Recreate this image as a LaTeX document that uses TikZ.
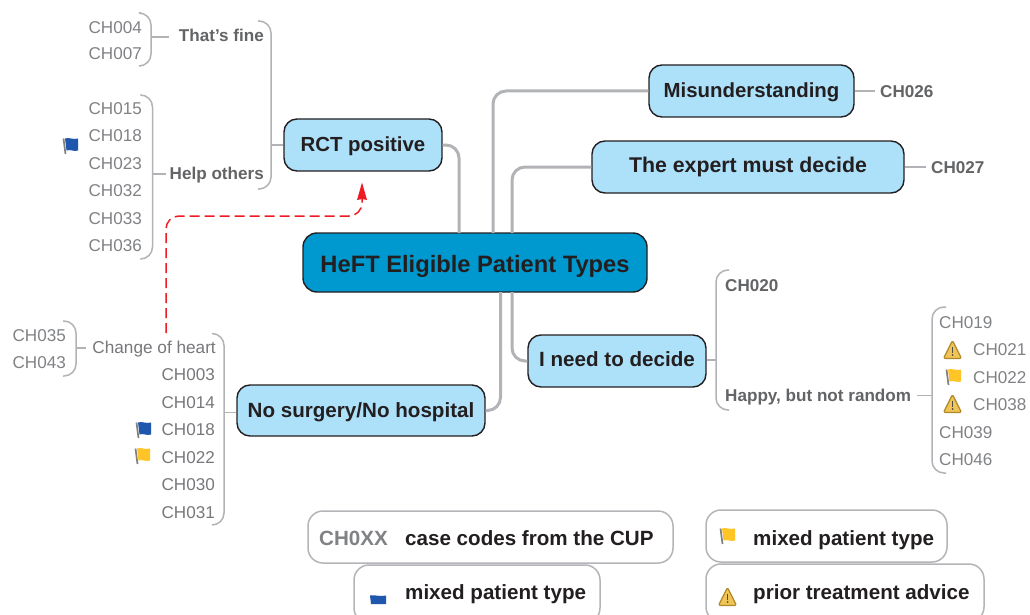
\documentclass[tikz,border=0pt]{standalone}
\usepackage{fontspec}
\setmainfont{Liberation Sans}
\definecolor{nodeblue}{HTML}{ADE0F9}
\definecolor{rootblue}{HTML}{0099CF}
\definecolor{inkdark}{HTML}{231F20}
\definecolor{linegrey}{HTML}{B1B3B6}
\definecolor{codegrey}{HTML}{808285}
\definecolor{labelgrey}{HTML}{636466}
\definecolor{midgrey}{HTML}{77787B}
\definecolor{boxgrey}{HTML}{B4B5B8}
\definecolor{flagblue}{HTML}{1F57AE}
\definecolor{flagyellow}{HTML}{FFC425}
\definecolor{warnfill}{HTML}{F0C455}
\definecolor{warnedge}{HTML}{B08A2A}
\definecolor{redline}{HTML}{ED1C24}
\tikzset{
  topic/.style={draw=inkdark,line width=1.4pt,fill=nodeblue,rounded corners=13pt,text=inkdark,inner sep=0pt,
    font=\fontsize{20.4pt}{22pt}\bfseries,text height=14.7pt,text depth=0pt,anchor=center},
  root/.style={topic,fill=rootblue,rounded corners=14pt,font=\fontsize{23.7pt}{25pt}\bfseries,text height=20pt},
  code/.style={text=codegrey,inner sep=0pt,font=\fontsize{17.1pt}{19pt}\selectfont,text height=12.4pt,text depth=0pt},
  codemid/.style={code,text=midgrey},
  sublabel/.style={text=labelgrey,inner sep=0pt,font=\fontsize{17.1pt}{19pt}\bfseries,text height=12.2pt,text depth=0pt},
  branch/.style={draw=linegrey,line width=3pt,rounded corners=13pt},
  bracket/.style={draw=linegrey,line width=1.5pt,rounded corners=12pt},
  stub/.style={draw=linegrey,line width=1.5pt},
  legendbox/.style={draw=boxgrey,line width=1.5pt,fill=white,rounded corners=15pt,inner sep=0pt},
  legendtext/.style={text=inkdark,inner sep=0pt,font=\fontsize{20.6pt}{22pt}\bfseries,text height=14.8pt,text depth=0pt,anchor=west},
  linkline/.style={draw=redline,line width=1.5pt,dash pattern=on 10pt off 5pt,rounded corners=13pt},
  flagicon/.pic={
    \fill[#1] (3,-0.5) .. controls (7,-2) and (11,1) .. (16,-0.5) -- (16,11.5) .. controls (12,13) and (8,10) .. (4.5,11.5) -- cycle;
    \draw[gray,line width=1.7pt] (1.5,-0.5) -- (3.5,15);
  },
  warnicon/.pic={
    \draw[warnedge,fill=warnfill,line width=1.2pt,rounded corners=1.5pt,line join=round] (8.5,-0.5) -- (17.5,17.5) -- (-0.5,17.5) -- cycle;
    \draw[inkdark!80,line width=1.4pt] (8.5,5.5) -- (8.5,11.5);
    \fill[inkdark!80] (8.5,14) circle (1);
  },
}
\begin{document}
\begin{tikzpicture}[x=1pt,y=-1pt]
\clip (0,0) rectangle (1030,615);
\fill[white] (0,0) rectangle (1030,615);

% main topics
\node[root,minimum width=344pt,minimum height=59pt] (central) at (475,262.5) {HeFT Eligible Patient Types};
\node[topic,text depth=2pt,minimum width=158pt,minimum height=52pt] (rct) at (363,145) {RCT positive};
\node[topic,minimum width=248pt,minimum height=51pt,font=\fontsize{20.6pt}{22pt}\bfseries] (nosurg) at (361,410.5) {No surgery/No hospital};
\node[topic,text depth=2pt,minimum width=205pt,minimum height=52pt] (misund) at (751.5,91) {Misunderstanding};
\node[topic,text depth=4pt,minimum width=312pt,minimum height=52pt,font=\fontsize{21.3pt}{23pt}\bfseries] (expert) at (748,167) {The expert must decide};
\node[topic,text depth=4pt,minimum width=178pt,minimum height=52pt,font=\fontsize{20.6pt}{22pt}\bfseries] (decide) at (617,361) {I need to decide};

% anchors on the root's edges
\coordinate (rootA) at (459,233);
\coordinate (rootB) at (493,233);
\coordinate (rootC) at (512,233);
\coordinate (rootD) at (512,292);
\coordinate (rootE) at (500.5,292);
\draw[branch] (rct.east) -| (rootA);
\draw[branch] (misund.west) -| (rootB);
\draw[branch] (expert.west) -| (rootC);
\draw[branch] (decide.west) -| (rootD);
\draw[branch] (nosurg.east) -| (rootE);

% RCT positive branch
\node[sublabel,anchor=east] (fine) at (264,35) {That’s fine};
\node[sublabel,anchor=east] (help) at (264,173) {Help others};
\node[code,anchor=east] (c004) at (142,27) {CH004};
\node[code,anchor=east] (c007) at (142,53) {CH007};
\node[code,anchor=east] (c015) at (142,108) {CH015};
\node[code,anchor=east] (c018a) at (142,135) {CH018};
\node[code,anchor=east] (c023) at (142,163) {CH023};
\node[code,anchor=east] (c032) at (142,190) {CH032};
\node[code,anchor=east] (c033) at (142,218) {CH033};
\node[code,anchor=east] (c036) at (142,245) {CH036};
\draw[bracket] (258,21) -| (271,189) -- (258,189);
\coordinate (brRct) at (271,145);
\draw[stub] (brRct) -- (rct.west |- brRct);
\draw[bracket] (141,13) -| (151,66) -- (141,66);
\coordinate (brFine) at (151,37);
\draw[stub] (brFine) -- ([xshift=-10pt]fine.west |- brFine);
\draw[bracket] (141,95) -| (152.5,259) -- (141,259);
\coordinate (brHelp) at (152.5,174);
\draw[stub] (brHelp) -- ([xshift=-4pt]help.west |- brHelp);
\pic at (62,139) {flagicon=flagblue};

% No surgery branch
\node[sublabel,anchor=east,font=\fontsize{17.2pt}{19pt}\selectfont,text=midgrey] (change) at (216,347) {Change of heart};
\node[codemid,anchor=east] (c003) at (215,374) {CH003};
\node[codemid,anchor=east] (c014) at (215,402) {CH014};
\node[codemid,anchor=east] (c018b) at (215,429) {CH018};
\node[codemid,anchor=east] (c022a) at (215,457) {CH022};
\node[codemid,anchor=east] (c030) at (215,484) {CH030};
\node[codemid,anchor=east] (c031) at (215,512) {CH031};
\node[code,anchor=east] (c035) at (66,335) {CH035};
\node[code,anchor=east] (c043) at (66,362) {CH043};
\draw[bracket] (212,333.5) -| (224,525) -- (212,525);
\coordinate (brSurg) at (224,412.5);
\draw[stub] (brSurg) -- (nosurg.west |- brSurg);
\draw[bracket] (63,321) -| (76,376) -- (63,376);
\coordinate (brChange) at (76,348);
\draw[stub] (brChange) -- ([xshift=-6pt]change.west |- brChange);
\pic at (135,423) {flagicon=flagblue};
\pic at (134,449) {flagicon=flagyellow};

% red link
\coordinate (linkS) at (166,333);
\coordinate (linkE) at (362,196);
\draw[linkline] (linkS) |- (362,216) -- (linkE);
\fill[redline] (362,182.5) -- (367,200) -- (362,199) -- (357,200) -- cycle;

% right side labels
\node[sublabel,anchor=west] (c026) at (880,91) {CH026};
\node[sublabel,anchor=west] (c027) at (931,167) {CH027};
\draw[stub] (misund.east) -- ([xshift=-5pt]c026.west);
\draw[stub] (expert.east) -- ([xshift=-5pt]c027.west);

% I need to decide branch
\node[sublabel,anchor=west] (c020) at (725,285) {CH020};
\node[sublabel,anchor=west] (happy) at (725,395) {Happy, but not random};
\draw[bracket] (729,270) -| (716,410) -- (729,410);
\coordinate (brDecide) at (716,360);
\draw[stub] (decide.east |- brDecide) -- (brDecide);
\draw[bracket] (946,307) -| (932,473) -- (946,473);
\coordinate (brHappy) at (932,395.5);
\draw[stub] ([xshift=6pt]happy.east |- brHappy) -- (brHappy);
\node[code,anchor=west] (c019) at (939,322) {CH019};
\node[code,anchor=west] (c021) at (973,349) {CH021};
\node[code,anchor=west] (c022b) at (973,377) {CH022};
\node[code,anchor=west] (c038) at (973,404) {CH038};
\node[code,anchor=west] (c039) at (939,432) {CH039};
\node[code,anchor=west] (c046) at (939,459) {CH046};
\pic at (944,341) {warnicon};
\pic at (945,370) {flagicon=flagyellow};
\pic at (944,395) {warnicon};

% legend
\node[legendbox,minimum width=365pt,minimum height=52pt] (leg1) at (490.5,537) {};
\node[legendbox,minimum width=241pt,minimum height=52pt] (leg2) at (826.5,536) {};
\node[legendbox,minimum width=246pt,minimum height=58pt] (leg3) at (477,594) {};
\node[legendbox,minimum width=278pt,minimum height=58pt] (leg4) at (845,593) {};
\node[legendtext,text=codegrey] (legcode) at (319,538) {CH0XX};
\node[legendtext] (legcup) at (405,538) {case codes from the CUP};
\node[legendtext] (legy) at (753,538) {mixed patient type};
\node[legendtext] (legb) at (405,592) {mixed patient type};
\node[legendtext] (legw) at (753,592) {prior treatment advice};
\pic at (719,529) {flagicon=flagyellow};
\fill[flagblue] (370,595.5) .. controls (375,594.5) and (380,597) .. (386,595.5) -- (386,604) -- (371,604) -- cycle;
\pic at (719,588) {warnicon};
\end{tikzpicture}
\end{document}
